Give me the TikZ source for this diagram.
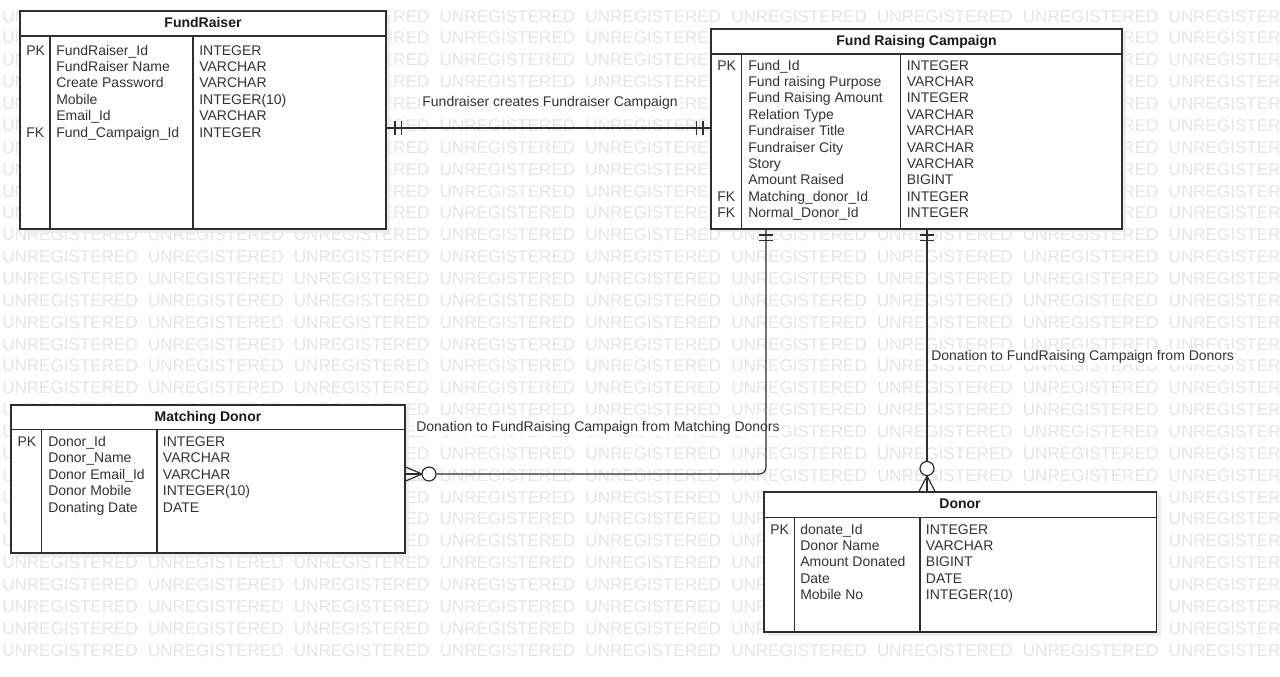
\documentclass[tikz,border=0pt]{standalone}
\usepackage{fontspec}
\setmainfont{Liberation Sans}
\usetikzlibrary{fit}
\tikzset{
  wm/.style={anchor=west, inner sep=0pt, text=black!10, font=\fontsize{12.8}{14}\selectfont, text height=9.2pt, text depth=0pt},
  tbl/.style={draw=black!82, fill=white, line width=0.9pt, inner sep=0pt},
  shadowbox/.style={fill=black!7, inner sep=0pt},
  tblline/.style={draw=black!82, line width=0.9pt},
  cell/.style={anchor=west, inner sep=0pt, text=black!80, font=\fontsize{10.5}{12}\selectfont, text height=7.5pt, text depth=0pt},
  ttl/.style={inner sep=0pt, text=black!90, font=\fontsize{10.5}{12}\selectfont\bfseries, text height=7.5pt, text depth=0pt},
  lbl/.style={fill=white, inner sep=1.5pt, text=black!80, font=\fontsize{10.5}{12}\selectfont, text height=7.5pt, text depth=2pt},
  conn/.style={draw=black!82, line width=0.9pt},
  ring/.style={draw=black!82, fill=white, line width=0.9pt, circle, inner sep=0pt, minimum size=10.5pt}
}
\newcommand\tblrows[4]{%
  \foreach \t [count=\i from 0] in {#4} \node[cell] (#1-\i) at (#2, #3+16.42*\i) {\t};}
\begin{document}
\begin{tikzpicture}[x=0.75pt,y=-0.75pt]
\clip (0,0) rectangle (1280,676);
\fill[white] (0,0) rectangle (1280,676);
% watermark (words fully hidden under a table are left out)
\foreach \r in {0,...,29} \foreach \c in {0,...,8} {
  \pgfmathsetmacro\wx{2+145.8*\c}
  \pgfmathsetmacro\wy{16+21.86*\r}
  \pgfmathtruncatemacro\hid{((\wx>=20)&&(\wx+136<=386)&&(\wy-7>=11)&&(\wy+7<=229)) || ((\wx>=711)&&(\wx+136<=1122)&&(\wy-7>=29)&&(\wy+7<=229)) || ((\wx>=11)&&(\wx+136<=405)&&(\wy-7>=405)&&(\wy+7<=553)) || ((\wx>=764)&&(\wx+136<=1156)&&(\wy-7>=492)&&(\wy+7<=632)) ? 1 : 0}
  \ifnum\hid=0
    \node[wm] (wm-\r-\c) at (\wx,\wy) {UNREGISTERED};
  \fi
}

% shadows
\node[shadowbox, fit={(24,15) (390,233)}] (fr-sh) {};
\node[shadowbox, fit={(715,33) (1126,232)}] (fc-sh) {};
\node[shadowbox, fit={(15,409) (409,557)}] (md-sh) {};
\node[shadowbox, fit={(768,496) (1161,636)}] (dn-sh) {};

% ---------- FundRaiser ----------
\node[tbl, fit={(20,11) (386,229)}] (fr) {};
\draw[tblline] (fr.west |- 0,36) -- (fr.east |- 0,36);
\draw[tblline] (50,36) -- (fr.south -| 50,0);
\draw[tblline] (193,36) -- (fr.south -| 193,0);
\node[ttl] (fr-title) at (203,22.5) {FundRaiser};
\node[cell] (fr-pk) at (26,50) {PK};
\node[cell] (fr-fk) at (26,132.1) {FK};
\tblrows{frn}{56}{50}{FundRaiser\_Id,FundRaiser Name,Create Password,Mobile,Email\_Id,Fund\_Campaign\_Id}
\tblrows{frt}{199}{50}{INTEGER,VARCHAR,VARCHAR,INTEGER(10),VARCHAR,INTEGER}

% ---------- Fund Raising Campaign ----------
\node[tbl, fit={(711,29) (1122,229)}] (fc) {};
\draw[tblline] (fc.west |- 0,54) -- (fc.east |- 0,54);
\draw[tblline] (741.5,54) -- (fc.south -| 741.5,0);
\draw[tblline] (900.5,54) -- (fc.south -| 900.5,0);
\node[ttl] (fc-title) at (916.5,40.5) {Fund Raising Campaign};
\node[cell] (fc-pk) at (717,65) {PK};
\node[cell] (fc-fk1) at (717,196.4) {FK};
\node[cell] (fc-fk2) at (717,212.8) {FK};
\tblrows{fcn}{748}{65}{Fund\_Id,Fund raising Purpose,Fund Raising Amount,Relation Type,Fundraiser Title,Fundraiser City,Story,Amount Raised,Matching\_donor\_Id,Normal\_Donor\_Id}
\tblrows{fct}{906.5}{65}{INTEGER,VARCHAR,INTEGER,VARCHAR,VARCHAR,VARCHAR,VARCHAR,BIGINT,INTEGER,INTEGER}

% ---------- Matching Donor ----------
\node[tbl, fit={(11,405) (405,553)}] (md) {};
\draw[tblline] (md.west |- 0,429.5) -- (md.east |- 0,429.5);
\draw[tblline] (41.7,429.5) -- (md.south -| 41.7,0);
\draw[tblline] (157,429.5) -- (md.south -| 157,0);
\node[ttl] (md-title) at (208,416.5) {Matching Donor};
\node[cell] (md-pk) at (17.3,441.5) {PK};
\tblrows{mdn}{48}{441.5}{Donor\_Id,Donor\_Name,Donor Email\_Id,Donor Mobile,Donating Date}
\tblrows{mdt}{162.7}{441.5}{INTEGER,VARCHAR,VARCHAR,INTEGER(10),DATE}

% ---------- Donor ----------
\node[tbl, fit={(764,492) (1156.5,632)}] (dn) {};
\draw[tblline] (dn.west |- 0,517.5) -- (dn.east |- 0,517.5);
\draw[tblline] (794.3,517.5) -- (dn.south -| 794.3,0);
\draw[tblline] (920,517.5) -- (dn.south -| 920,0);
\node[ttl] (dn-title) at (960,503.5) {Donor};
\node[cell] (dn-pk) at (770,529) {PK};
\tblrows{dnn}{800}{529}{donate\_Id,Donor Name,Amount Donated,Date,Mobile No}
\tblrows{dnt}{925.7}{529}{INTEGER,VARCHAR,BIGINT,DATE,INTEGER(10)}

% ---------- labels ----------
\node[lbl] (l1) at (550,103) {Fundraiser creates Fundraiser Campaign};
\node[lbl] (l2) at (598,428) {Donation to FundRaising Campaign from Matching Donors};
\node[lbl, anchor=west] (l3) at (929,357) {Donation to FundRaising Campaign from Donors};

% ---------- connectors ----------
% FundRaiser -- Campaign (one and only one both ends)
\draw[conn] (fr.east |- 0,128) -- (fc.west |- 0,128);
\draw[conn] (395,121) -- (395,135);
\draw[conn] (401.5,121) -- (401.5,135);
\draw[conn] (696.5,121) -- (696.5,135);
\draw[conn] (703,121) -- (703,135);

% Campaign -- Matching Donor
\coordinate (c2) at (766,474);
\node[ring] (r2) at (429,474) {};
\coordinate (k2) at (422,474);
\draw[conn, rounded corners=5pt] (fc.south -| 766,0) -- (c2) -- (r2.east);
\draw[conn] (759,235) -- (773,235);
\draw[conn] (759,240.5) -- (773,240.5);
\draw[conn] (k2) -- (md.east |- 0,467);
\draw[conn] (k2) -- (md.east |- 0,474);
\draw[conn] (k2) -- (md.east |- 0,481);

% Campaign -- Donor
\node[ring] (r3) at (927,468.5) {};
\coordinate (k3) at (927,476);
\draw[conn] (fc.south -| 927,0) -- (r3.north);
\draw[conn] (920,235) -- (934,235);
\draw[conn] (920,240.5) -- (934,240.5);
\draw[conn] (k3) -- (dn.north -| 919,0);
\draw[conn] (k3) -- (dn.north -| 927,0);
\draw[conn] (k3) -- (dn.north -| 935,0);
\end{tikzpicture}
\end{document}
